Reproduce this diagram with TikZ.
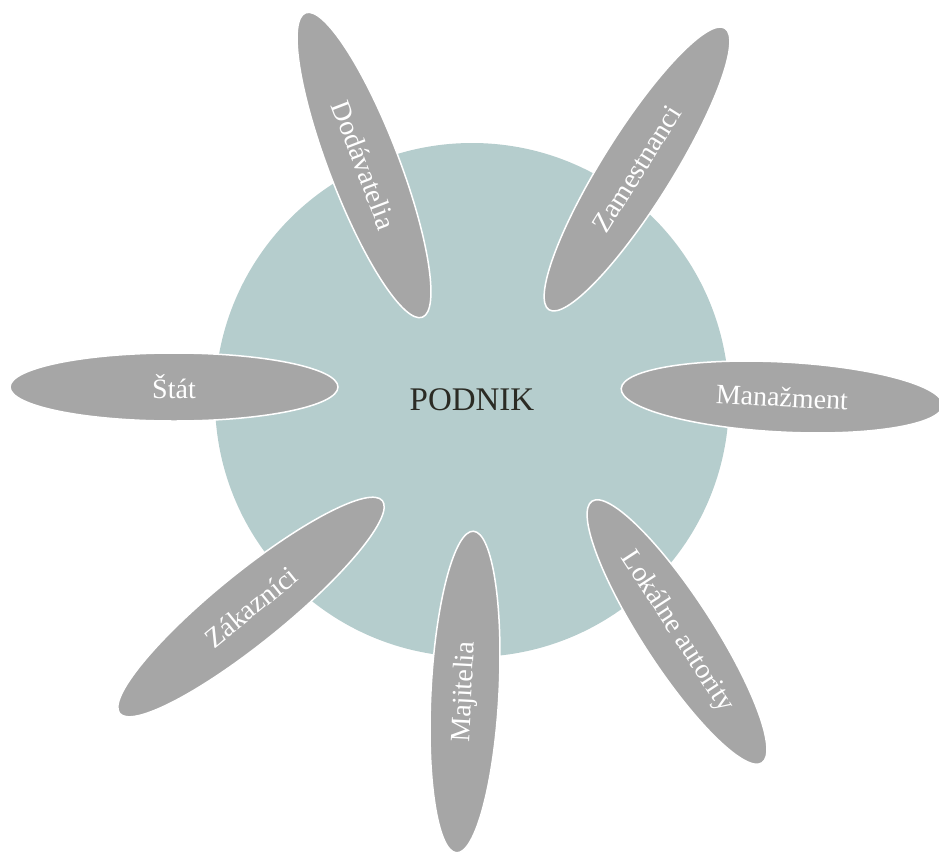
\documentclass[tikz,border=0pt]{standalone}
\usepackage{fontspec}
\setmainfont{Liberation Serif}
\usetikzlibrary{shapes.geometric}
\definecolor{circfill}{HTML}{B5CDCD}
\definecolor{petalfill}{HTML}{A6A6A6}
\definecolor{centertext}{HTML}{2B2B24}
\tikzset{
  petal/.style={ellipse, fill=petalfill, draw=white, line width=1.5pt, inner sep=0pt,
    minimum height=70pt, text=white, font=\fontsize{28}{30}\selectfont},
  hub/.style={circle, fill=circfill, minimum size=514pt, inner sep=0pt,
    text=centertext, font=\fontsize{33}{36}\selectfont}
}
\begin{document}
\begin{tikzpicture}[x=1pt,y=-1pt]
\useasboundingbox (0,0) rectangle (939,854);
\node[hub] (podnik) at (472,400) {PODNIK};
\node[petal, minimum width=326pt, rotate=-69] (dod) at (364,165) {Dodávatelia};
\node[petal, minimum width=332pt, rotate=58] (zam) at (637,169) {Zamestnanci};
\node[petal, minimum width=322pt, rotate=-3] (man) at (782,397) {Manažment};
\node[petal, minimum width=328pt, minimum height=68pt, rotate=0] (stat) at (174,387) {Štát};
\node[petal, minimum width=312pt, rotate=-57] (lok) at (677,632) {Lokálne autority};
\node[petal, minimum width=322pt, minimum height=68pt, rotate=87] (maj) at (465,692) {Majitelia};
\node[petal, minimum width=338pt, rotate=39] (zak) at (251,607) {Zákazníci};
\end{tikzpicture}
\end{document}
